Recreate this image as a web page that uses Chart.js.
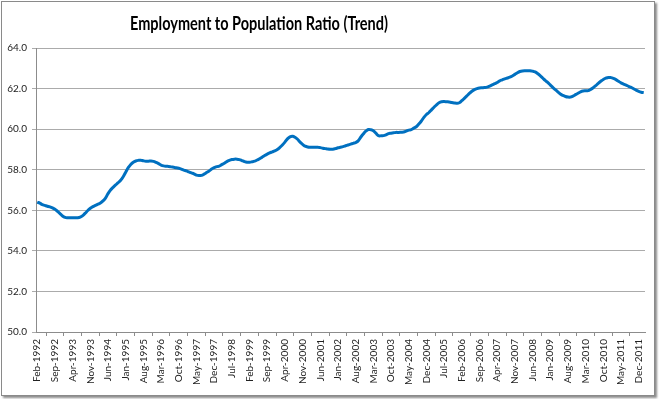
<!DOCTYPE html>
<html>
<head>
<meta charset="utf-8">
<script src="https://cdn.jsdelivr.net/npm/chart.js@4.4.1/dist/chart.umd.min.js"></script>
<style>
  html, body { margin: 0; padding: 0; background: #fff; }
  #box {
    position: absolute; left: 1px; top: 1px;
    width: 652px; height: 393px;
    border: 1px solid #8a8a8a;
    box-shadow: 2px 2px 2px rgba(0,0,0,0.45);
    background: #fff;
  }
  canvas { display: block; }
</style>
</head>
<body>
<div id="box"><canvas id="chartEmp" width="652" height="393"></canvas></div>
<script>
// Employment to population ratio, trend series, monthly Feb-1992 .. Feb-2012
const monthNames = ['Jan','Feb','Mar','Apr','May','Jun','Jul','Aug','Sep','Oct','Nov','Dec'];
const firstYear = 1992;
const firstMonth = 1; // Feb
const labelEvery = 7;

const empRatio = [
  56.40, 56.35, 56.28, 56.24, 56.20, 56.17, 56.12, 56.05, 55.95, 55.84, 55.72, // Feb92-Dec92
  55.65, 55.63, 55.63, 55.63, 55.63, 55.63, 55.66, 55.74, 55.86, 55.99, 56.10, 56.18, // 1993
  56.24, 56.30, 56.36, 56.46, 56.60, 56.82, 57.00, 57.13, 57.25, 57.36, 57.48, 57.65, // 1994
  57.88, 58.10, 58.26, 58.37, 58.43, 58.46, 58.47, 58.44, 58.42, 58.42, 58.43, 58.41, // 1995
  58.36, 58.30, 58.23, 58.19, 58.17, 58.16, 58.14, 58.12, 58.10, 58.07, 58.03, 57.98, // 1996
  57.94, 57.89, 57.84, 57.80, 57.73, 57.71, 57.72, 57.78, 57.86, 57.94, 58.03, 58.10, // 1997
  58.15, 58.18, 58.25, 58.32, 58.40, 58.46, 58.50, 58.52, 58.52, 58.50, 58.45, 58.40, // 1998
  58.37, 58.37, 58.39, 58.42, 58.48, 58.54, 58.62, 58.70, 58.77, 58.83, 58.88, 58.93, // 1999
  59.00, 59.10, 59.22, 59.36, 59.52, 59.62, 59.65, 59.60, 59.50, 59.36, 59.25, 59.16, // 2000
  59.12, 59.11, 59.11, 59.11, 59.11, 59.09, 59.06, 59.04, 59.02, 59.01, 59.01, 59.04, // 2001
  59.08, 59.11, 59.14, 59.18, 59.22, 59.26, 59.30, 59.34, 59.42, 59.60, 59.76, 59.90, // 2002
  59.98, 59.97, 59.92, 59.80, 59.68, 59.67, 59.68, 59.72, 59.78, 59.80, 59.82, 59.84, // 2003
  59.84, 59.85, 59.86, 59.90, 59.95, 59.98, 60.05, 60.12, 60.25, 60.40, 60.58, 60.72, // 2004
  60.82, 60.95, 61.08, 61.20, 61.30, 61.35, 61.36, 61.35, 61.34, 61.31, 61.29, 61.28, // 2005
  61.30, 61.40, 61.52, 61.64, 61.76, 61.87, 61.95, 62.00, 62.03, 62.04, 62.05, 62.07, // 2006
  62.12, 62.18, 62.24, 62.30, 62.38, 62.43, 62.48, 62.52, 62.56, 62.62, 62.70, 62.78, // 2007
  62.84, 62.87, 62.88, 62.88, 62.88, 62.86, 62.82, 62.74, 62.64, 62.52, 62.40, 62.30, // 2008
  62.18, 62.06, 61.95, 61.84, 61.73, 61.66, 61.61, 61.58, 61.58, 61.63, 61.70, 61.77, // 2009
  61.84, 61.88, 61.89, 61.90, 61.96, 62.04, 62.14, 62.26, 62.36, 62.45, 62.51, 62.55, // 2010
  62.54, 62.50, 62.44, 62.36, 62.28, 62.22, 62.17, 62.11, 62.06, 61.99, 61.92, 61.86, // 2011
  61.82, 61.80 // Jan12-Feb12
];

const yMin = 50, yMax = 64, yStep = 2;

const categories = [];
for (let i = 0; i < empRatio.length; i++) {
  const m = firstMonth + i;
  categories.push(monthNames[m % 12] + '-' + (firstYear + Math.floor(m / 12)));
}

// title sits left of centre in the original, so draw it by hand
const titlePlugin = {
  id: 'leftTitle',
  afterDraw(chart) {
    const c = chart.ctx;
    const txt = 'Employment to Population Ratio (Trend)';
    c.save();
    c.font = 'bold 18px Lato';
    c.fillStyle = '#000';
    c.textAlign = 'left';
    c.textBaseline = 'middle';
    const w = c.measureText(txt).width;
    const sx = 258 / w;   // squeeze to the narrow Calibri width
    c.translate(128, 22);
    c.scale(sx, 1);
    c.fillText(txt, 0, 0);
    c.restore();
  }
};

const ctx = document.getElementById('chartEmp').getContext('2d');
new Chart(ctx, {
  type: 'line',
  data: {
    labels: categories,
    datasets: [{
      label: 'Employment to Population Ratio',
      data: empRatio,
      borderColor: '#0070c0',
      borderWidth: 3,
      pointRadius: 0,
      tension: 0.4,
      fill: false
    }]
  },
  options: {
    responsive: false,
    animation: false,
    devicePixelRatio: 1,
    layout: { padding: { top: 46, right: 9, left: 0, bottom: 0 } },
    plugins: {
      legend: { display: false },
      title: { display: false },
      tooltip: { enabled: false }
    },
    scales: {
      x: {
        type: 'category',
        offset: true,
        afterFit: function(s) { s.height = 63; },
        grid: {
          display: true,
          drawOnChartArea: false,
          offset: true,
          tickLength: 4,
          color: '#8c8c8c'
        },
        border: { display: true, color: '#8c8c8c', width: 1 },
        ticks: {
          autoSkip: false,
          minRotation: 90,
          maxRotation: 90,
          padding: 3,
          color: '#222',
          font: { size: 10, family: 'Lato' },
          callback: function(v, i) {
            return i % labelEvery === 0 ? this.getLabelForValue(v) : null;
          }
        }
      },
      y: {
        min: yMin,
        max: yMax,
        afterFit: function(s) { s.width = 34; },
        grid: { color: '#ababab', lineWidth: 1, tickLength: 4 },
        border: { display: true, color: '#8c8c8c', width: 1 },
        ticks: {
          stepSize: yStep,
          padding: 5,
          color: '#222',
          font: { size: 10, family: 'Lato' },
          callback: function(v) { return v.toFixed(1); }
        }
      }
    }
  },
  plugins: [titlePlugin]
});
</script>
</body>
</html>
